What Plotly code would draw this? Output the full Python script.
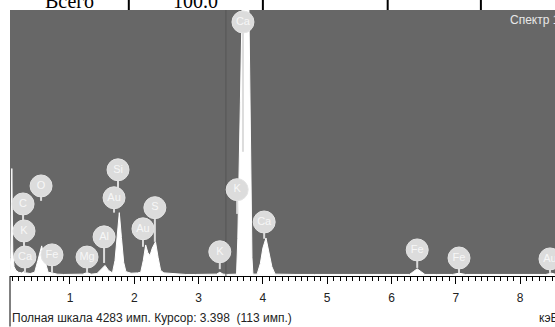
import plotly.graph_objects as go

# Spectrum (keV, counts)
energy = [0.067, 0.08, 0.095, 0.11, 0.13, 0.16, 0.20, 0.25, 0.28, 0.32, 0.38, 0.45, 0.50, 0.56, 0.61, 0.66,
          0.72, 0.80, 0.90, 1.00, 1.10, 1.20, 1.265, 1.33, 1.42, 1.48, 1.544, 1.60, 1.66, 1.70, 1.735, 1.767,
          1.80, 1.835, 1.87, 1.95, 2.05, 2.10, 2.14, 2.177, 2.21, 2.244, 2.28, 2.33, 2.37, 2.41, 2.46, 2.55,
          2.65, 2.80, 2.95, 3.10, 3.20, 3.28, 3.33, 3.38, 3.45, 3.59, 3.61, 3.625, 3.65, 3.68, 3.729, 3.78,
          3.80, 3.815, 3.83, 3.845, 3.91, 3.96, 4.00, 4.048, 4.09, 4.14, 4.19, 4.30, 4.50, 4.80, 5.10, 5.40,
          5.70, 6.00, 6.28, 6.34, 6.40, 6.46, 6.52, 6.70, 6.95, 7.05, 7.15, 7.40, 7.80, 8.20, 8.40, 8.49, 8.543]
counts = [80, 300, 1730, 400, 150, 90, 60, 50, 70, 50, 40, 60, 250, 485, 250, 60,
          50, 30, 25, 25, 25, 30, 55, 30, 40, 100, 170, 90, 50, 250, 650, 1020,
          620, 220, 70, 45, 50, 60, 250, 500, 380, 330, 450, 550, 300, 90, 50, 45,
          30, 25, 25, 25, 25, 30, 60, 30, 25, 30, 600, 1300, 2800, 4500, 9000, 4500,
          2800, 1300, 300, 30, 30, 200, 450, 612, 420, 150, 30, 25, 25, 25, 25, 25,
          25, 25, 25, 70, 115, 70, 25, 25, 25, 45, 25, 25, 25, 25, 25, 45, 30]

full_scale = 4283
cursor_kev = 3.425

# Element markers: label, energy, marker height (counts), stem bottom (counts)
el_names = ["Ca", "Ca", "K", "C", "O", "Fe", "Mg", "Al", "Au", "Si", "Au", "S", "K", "K", "Ca", "Fe", "Fe", "Au"]
el_kev = [3.69, 0.30, 0.285, 0.27, 0.55, 0.72, 1.265, 1.53, 1.685, 1.747, 2.135, 2.32, 3.33, 3.60, 4.02, 6.40, 7.05, 8.465]
el_y = [4090, 305, 725, 1160, 1450, 340, 305, 630, 1260, 1710, 760, 1100, 390, 1390, 870, 420, 290, 275]
el_stem = [2000, 50, 305, 725, 1210, 50, 50, 210, 1020, 1260, 470, 550, 110, 1000, 600, 130, 50, 50]

x_range = [0.067, 8.543]
major_ticks = [1, 2, 3, 4, 5, 6, 7, 8]

fig = go.Figure()

fig.add_trace(go.Scatter(x=energy, y=counts, mode="lines", fill="tozeroy",
                         fillcolor="white", line=dict(color="white", width=1),
                         hoverinfo="skip", showlegend=False))

fig.add_trace(go.Scatter(x=[cursor_kev, cursor_kev], y=[0, full_scale], mode="lines",
                         line=dict(color="#555555", width=1), showlegend=False, hoverinfo="skip"))

sx, sy = [], []
for e, y0, y1 in zip(el_kev, el_y, el_stem):
    sx += [e, e, None]
    sy += [y0, y1, None]
fig.add_trace(go.Scatter(x=sx, y=sy, mode="lines", line=dict(color="#dcdcdc", width=2),
                         showlegend=False, hoverinfo="skip"))

fig.add_trace(go.Scatter(x=el_kev, y=el_y, mode="markers+text", text=el_names,
                         textposition="middle center",
                         textfont=dict(family="Liberation Sans, Arial", size=11, color="#f7f7f7"),
                         marker=dict(size=22, color="#dcdcdc", line=dict(color="#e4e4e4", width=1)),
                         showlegend=False, hoverinfo="skip", cliponaxis=False))

fig.update_layout(
    width=555, height=327,
    margin=dict(l=10, r=0, t=10, b=51),
    paper_bgcolor="white",
    plot_bgcolor="#676767",
    showlegend=False,
    xaxis=dict(range=x_range, tickvals=major_ticks, ticks="outside", ticklen=7, tickwidth=1,
               tickcolor="black", showline=True, linecolor="black", linewidth=1,
               showgrid=False, zeroline=False, ticklabelstandoff=4,
               tickfont=dict(family="Liberation Sans, Arial", size=12, color="#222222"),
               minor=dict(dtick=0.1, ticks="outside", ticklen=4, tickcolor="black", showgrid=False)),
    yaxis=dict(range=[0, full_scale], showticklabels=False, ticks="", showgrid=False,
               zeroline=False, showline=False),
    annotations=[
        dict(text="Спектр 1", xref="paper", yref="paper", x=0.914, y=0.962, xanchor="left",
             yanchor="middle", showarrow=False,
             font=dict(family="Liberation Sans, Arial", size=12, color="#e8e8e8")),
        dict(text="Полная шкала 4283 имп. Курсор: 3.398  (113 имп.)", xref="paper", yref="paper",
             x=0.0, y=-0.158, xanchor="left", yanchor="middle", showarrow=False,
             font=dict(family="Liberation Sans, Arial", size=12, color="#222222")),
        dict(text="кэВ", xref="paper", yref="paper", x=0.967, y=-0.158, xanchor="left",
             yanchor="middle", showarrow=False,
             font=dict(family="Liberation Sans, Arial", size=12, color="#222222")),
        dict(text="Всего", xref="paper", yref="paper", x=0.11, y=1.035, xanchor="center",
             yanchor="middle", showarrow=False,
             font=dict(family="Liberation Serif, Times New Roman", size=20, color="black")),
        dict(text="100.0", xref="paper", yref="paper", x=0.34, y=1.035, xanchor="center",
             yanchor="middle", showarrow=False,
             font=dict(family="Liberation Serif, Times New Roman", size=20, color="black")),
    ],
    shapes=[
        dict(type="line", xref="paper", yref="paper", x0=0, x1=0, y0=-0.19, y1=0,
             line=dict(color="black", width=1)),
        *[dict(type="line", xref="paper", yref="paper", x0=px, x1=px, y0=1.0, y1=1.05,
               line=dict(color="black", width=2)) for px in [0.218, 0.464, 0.693, 0.864]],
    ],
)

fig.write_html("out.html")
